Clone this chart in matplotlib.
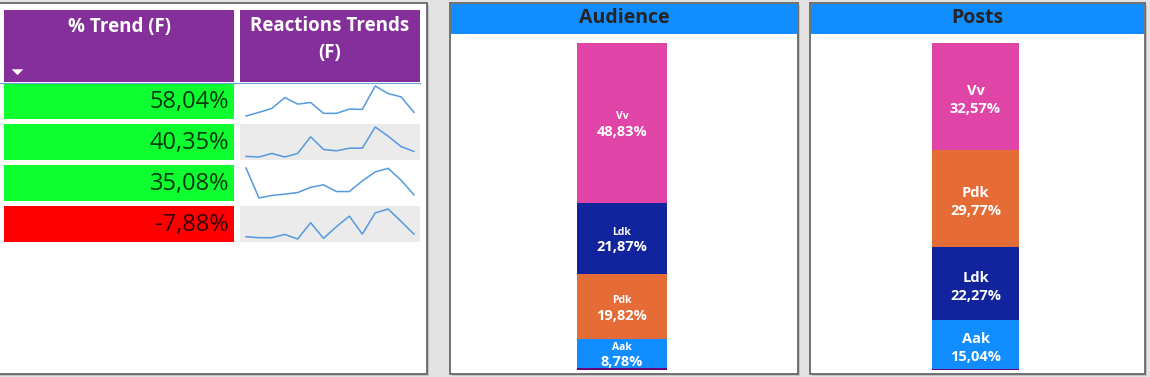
import numpy as np
import matplotlib.pyplot as plt
from matplotlib.patches import Rectangle

plt.rcParams['font.family'] = ['Open Sans', 'DejaVu Sans']

W, H = 1150, 377

# table data
trend_values = [58.04, 40.35, 35.08, -7.88]
spark_1 = [12, 23, 35, 68, 48, 53, 20, 20, 33, 32, 103, 80, 70, 23]
spark_2 = [20, 18, 29, 18, 29, 80, 41, 37, 45, 45, 110, 82, 50, 35]
spark_3 = [108, 15, 23, 27, 32, 48, 56, 35, 35, 68, 96, 107, 70, 25]
spark_4 = [19, 16, 16, 26, 12, 62, 14, 50, 82, 27, 92, 104, 66, 27]
sparks = [spark_1, spark_2, spark_3, spark_4]

# stacked bars (bottom to top)
aud_cats = ['Other', 'Aak', 'Pdk', 'Ldk', 'Vv']
aud_vals = [0.70, 8.78, 19.82, 21.87, 48.83]
posts_cats = ['Other', 'Aak', 'Ldk', 'Pdk', 'Vv']
posts_vals = [0.35, 15.04, 22.27, 29.77, 32.57]

cat_colors = {'Vv': '#E044A7', 'Ldk': '#12239E', 'Pdk': '#E66C37',
              'Aak': '#118DFF', 'Other': '#6B007B'}


def pct(v):
    return f'{v:.2f}'.replace('.', ',') + '%'


fig = plt.figure(figsize=(W / 100, H / 100), dpi=100, facecolor='#e3e3e3')


def ax_px(x0, y0, x1, y1):
    return fig.add_axes([x0 / W, 1 - y1 / H, (x1 - x0) / W, (y1 - y0) / H])


bg = fig.add_axes([0, 0, 1, 1])
bg.set_xlim(0, W)
bg.set_ylim(H, 0)
bg.axis('off')

# panels with a soft shadow
for x0, x1 in [(-5, 427), (450, 798), (810, 1145)]:
    bg.add_patch(Rectangle((x0 + 2, 5), x1 - x0, 371, color='#c4c4c4', lw=0))
    bg.add_patch(Rectangle((x0, 3), x1 - x0, 371, facecolor='white',
                           edgecolor='#5c5c5c', lw=1.2))

# ---- table ----
purple = '#85309A'
bg.add_patch(Rectangle((4, 10), 230, 72, color=purple, lw=0))
bg.add_patch(Rectangle((240, 10), 180, 72, color=purple, lw=0))
bg.plot([0, 420], [82.5, 82.5], color='#6aa0d8', lw=0.8)
bg.text(119, 27, '% Trend (F)', color='white', fontsize=13.5,
        fontweight='bold', ha='center', va='center')
bg.text(330, 26, 'Reactions Trends', color='white', fontsize=13.5,
        fontweight='bold', ha='center', va='center')
bg.text(330, 53, '(F)', color='white', fontsize=13.5,
        fontweight='bold', ha='center', va='center')
bg.scatter([17], [72], marker=[(-1, 0.55), (1, 0.55), (0, -0.45)],
           color='white', s=70, lw=0)

for i, v in enumerate(trend_values):
    top = 83 + 41 * i
    cell = '#0DFF2F' if v >= 0 else '#FF0000'
    bg.add_patch(Rectangle((4, top), 230, 36, color=cell, lw=0))
    bg.text(229, top + 19, pct(v), fontsize=17, color='black', alpha=0.78,
            ha='right', va='center')
    if i % 2 == 1:
        bg.add_patch(Rectangle((240, top), 180, 36, color='#ebebeb', lw=0))

    s = sparks[i]
    ax = ax_px(246, top + 3, 414, top + 33)
    ax.plot(range(len(s)), s, color='#5599de', lw=1.1, clip_on=False)
    ax.set_xlim(0, len(s) - 1)
    ax.set_ylim(min(s), max(s))
    ax.axis('off')

# ---- stacked bars ----
def stacked(x0, x1, title, cats, vals, bar_w, name_size, name_dy, val_dy):
    bg.add_patch(Rectangle((x0 + 1, 4), x1 - x0 - 2, 30, color='#118DFF', lw=0))
    bg.text((x0 + x1) / 2, 18, title, fontsize=14, fontweight='bold',
            color='#252423', ha='center', va='center')
    ax = ax_px(x0 + 1, 43, x1 - 1, 370)
    half = (x1 - x0 - 2) / 200
    bottoms = np.concatenate([[0], np.cumsum(vals)[:-1]])
    for c, v, b in zip(cats, vals, bottoms):
        ax.bar(-0.02, v, bottom=b, width=bar_w, color=cat_colors[c], lw=0)
        if v < 1:
            continue
        mid = b + v / 2
        ax.annotate(c, (-0.02, mid), xytext=(0, name_dy), textcoords='offset pixels',
                    ha='center', va='center', color='white',
                    fontsize=name_size, fontweight='bold')
        ax.annotate(pct(v), (-0.02, mid), xytext=(0, val_dy), textcoords='offset pixels',
                    ha='center', va='center', color='white',
                    fontsize=10.5, fontweight='bold', annotation_clip=False)
    ax.set_xlim(-half, half)
    ax.set_ylim(0, sum(vals))
    ax.axis('off')


stacked(450, 798, 'Audience', aud_cats, aud_vals, 0.90, 7.5, 6, -9)
stacked(810, 1145, 'Posts', posts_cats, posts_vals, 0.87, 10.5, 5, -13)

fig.savefig('out.png', dpi=100, facecolor=fig.get_facecolor())
